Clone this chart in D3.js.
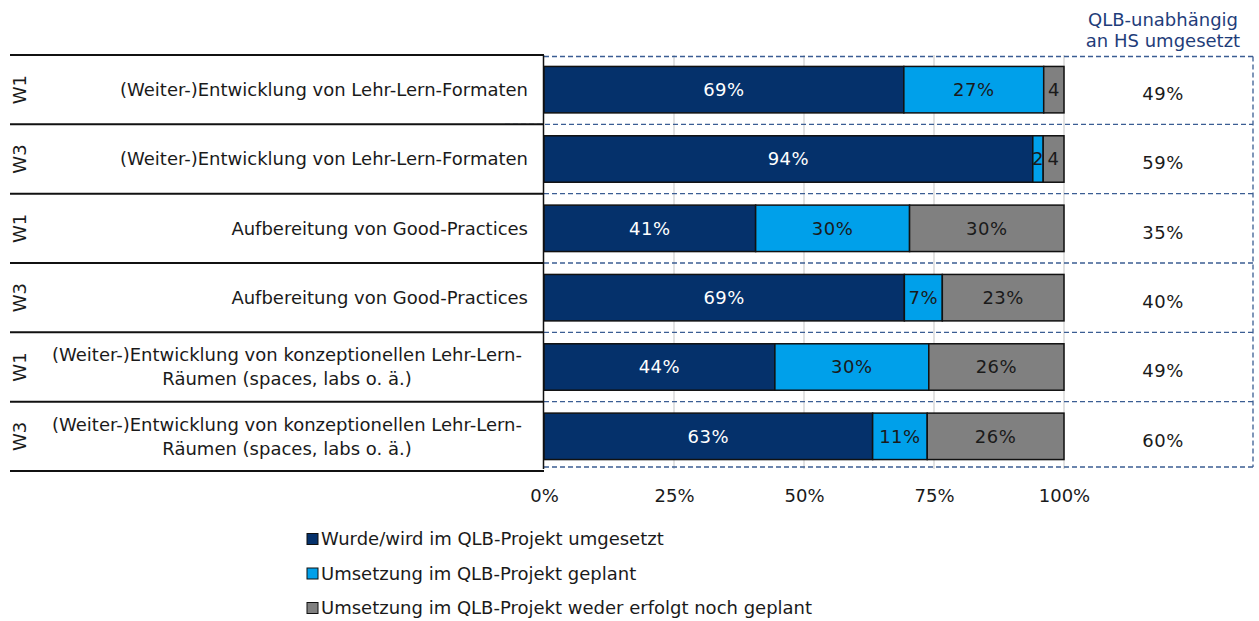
<!DOCTYPE html>
<html>
<head>
<meta charset="utf-8">
<script src="https://cdn.jsdelivr.net/npm/d3@7"></script>
<style>
  body { margin: 0; background: #fff; }
  svg text { font-family: "DejaVu Sans", Verdana, sans-serif; font-size: 18px; fill: #1a1a1a; }
</style>
</head>
<body>
<div id="chart"></div>
<script>
// data
const waves = ["W1", "W3", "W1", "W3", "W1", "W3"];
const rowLabels = [
  ["(Weiter-)Entwicklung von Lehr-Lern-Formaten"],
  ["(Weiter-)Entwicklung von Lehr-Lern-Formaten"],
  ["Aufbereitung von Good-Practices"],
  ["Aufbereitung von Good-Practices"],
  ["(Weiter-)Entwicklung von konzeptionellen Lehr-Lern-", "Räumen (spaces, labs o. ä.)"],
  ["(Weiter-)Entwicklung von konzeptionellen Lehr-Lern-", "Räumen (spaces, labs o. ä.)"]
];
const implemented = [69.2, 94.0, 40.7, 69.3, 44.4, 63.2];
const planned     = [26.9,  2.0, 29.6,  7.3, 29.6, 10.5];
const notPlanned  = [ 3.9,  4.0, 29.7, 23.4, 26.0, 26.3];
const independent = [49, 59, 35, 40, 49, 60];
const xTicks = [0, 25, 50, 75, 100];
const seriesNames = [
  "Wurde/wird im QLB-Projekt umgesetzt",
  "Umsetzung im QLB-Projekt geplant",
  "Umsetzung im QLB-Projekt weder erfolgt noch geplant"
];
const headerLines = ["QLB-unabhängig", "an HS umgesetzt"];

const colors = ["#05316b", "#00a0ea", "#808080"];
const labelColors = ["#ffffff", "#1a1a1a", "#1a1a1a"];

const width = 1259, height = 621;
const svg = d3.select("#chart").append("svg")
  .attr("width", width)
  .attr("height", height);

const x = d3.scaleLinear().domain([0, 100]).range([544, 1064]);
const y = d3.scaleBand().domain(d3.range(waves.length)).range([55, 471])
  .paddingInner(0.33).paddingOuter(0.165);
const step = y.step();
const plotTop = 55, plotBottom = 471;

// stacked data
const rows = waves.map((w, i) => {
  const vals = [implemented[i], planned[i], notPlanned[i]];
  let acc = 0;
  return vals.map((v, k) => {
    const seg = {row: i, k: k, v: v, x0: acc, x1: acc + v};
    acc += v;
    return seg;
  });
});

// gridlines
svg.append("g").selectAll("line")
  .data(xTicks.slice(1))
  .join("line")
    .attr("x1", d => x(d)).attr("x2", d => x(d))
    .attr("y1", plotTop).attr("y2", plotBottom - 2)
    .attr("stroke", "#d9d9d9").attr("stroke-width", 1.5);

// dashed frame for right column
const dashColor = "#3b5d93";
const dashYs = d3.range(waves.length + 1).map(i => plotTop + i * step);
dashYs[0] += 1.5;
dashYs[dashYs.length - 1] -= 4;
svg.append("g").selectAll("line")
  .data(dashYs)
  .join("line")
    .attr("x1", (d, i) => i === 1 ? 505 : 544).attr("x2", 1253)
    .attr("y1", d => d).attr("y2", d => d)
    .attr("stroke", dashColor).attr("stroke-width", 1.3)
    .attr("stroke-dasharray", "5,3");
svg.append("line")
  .attr("x1", 1253).attr("x2", 1253)
  .attr("y1", dashYs[0]).attr("y2", dashYs[dashYs.length - 1])
  .attr("stroke", dashColor).attr("stroke-width", 1.3)
  .attr("stroke-dasharray", "5,3");

// table lines on the left
svg.append("g").selectAll("line")
  .data(d3.range(waves.length + 1))
  .join("line")
    .attr("x1", 10).attr("x2", 544)
    .attr("y1", i => plotTop + i * step).attr("y2", i => plotTop + i * step)
    .attr("stroke", "#111").attr("stroke-width", 2);
svg.append("line")
  .attr("x1", 543.5).attr("x2", 543.5)
  .attr("y1", plotTop).attr("y2", plotBottom - 2)
  .attr("stroke", "#111").attr("stroke-width", 1.5);

// bars
const segs = svg.append("g").selectAll("g")
  .data(rows.flat())
  .join("g");
segs.append("rect")
  .attr("x", d => x(d.x0))
  .attr("y", d => y(d.row))
  .attr("width", d => x(d.x1) - x(d.x0))
  .attr("height", y.bandwidth())
  .attr("fill", d => colors[d.k])
  .attr("stroke", "#111")
  .attr("stroke-width", 1.5);
segs.append("text")
  .attr("x", d => (x(d.x0) + x(d.x1)) / 2)
  .attr("y", d => y(d.row) + y.bandwidth() / 2)
  .attr("dy", "0.35em")
  .attr("text-anchor", "middle")
  .style("fill", d => labelColors[d.k])
  .style("letter-spacing", "0.5px")
  .text(d => Math.round(d.v) + (d.v < 5 ? "" : "%"));

// wave labels
svg.append("g").selectAll("text")
  .data(waves)
  .join("text")
    .attr("transform", (d, i) => `translate(20,${y(i) + y.bandwidth() / 2}) rotate(-90)`)
    .attr("dy", "0.35em")
    .attr("text-anchor", "middle")
    .text(d => d);

// row labels
const lbl = svg.append("g").selectAll("text")
  .data(rowLabels)
  .join("text")
    .attr("text-anchor", d => d.length > 1 ? "middle" : "end")
    .attr("transform", (d, i) => {
      const cy = y(i) + y.bandwidth() / 2;
      return `translate(${d.length > 1 ? 287 : 528},${cy})`;
    });
lbl.selectAll("tspan")
  .data(d => d.map((t, j) => ({t: t, j: j, n: d.length})))
  .join("tspan")
    .attr("x", 0)
    .attr("y", d => (d.j - (d.n - 1) / 2) * 24)
    .attr("dy", "0.35em")
    .text(d => d.t);

// right column
svg.append("g").selectAll("text")
  .data(independent)
  .join("text")
    .attr("x", 1163)
    .attr("y", (d, i) => y(i) + y.bandwidth() / 2 + 4)
    .attr("dy", "0.35em")
    .attr("text-anchor", "middle")
    .style("letter-spacing", "0.5px")
    .text(d => d + "%");

svg.append("g").selectAll("text")
  .data(headerLines)
  .join("text")
    .attr("x", 1163)
    .attr("y", (d, i) => 26 + i * 21)
    .attr("text-anchor", "middle")
    .style("fill", "#1f3d7a")
    .text(d => d);

// x axis
const axis = svg.append("g")
  .attr("transform", `translate(0,${plotBottom})`)
  .call(d3.axisBottom(x).tickValues(xTicks).tickSize(0).tickPadding(18)
    .tickFormat(d => d + "%"));
axis.select(".domain").remove();
axis.selectAll("text")
  .attr("font-family", null).attr("font-size", null)
  .style("fill", "#1a1a1a");

// legend
const leg = svg.append("g").selectAll("g")
  .data(seriesNames)
  .join("g")
    .attr("transform", (d, i) => `translate(307,${539 + i * 34.5})`);
leg.append("rect")
  .attr("x", 0).attr("y", -5.5)
  .attr("width", 11).attr("height", 11)
  .attr("fill", (d, i) => colors[i])
  .attr("stroke", "#111").attr("stroke-width", 1);
leg.append("text")
  .attr("x", 14)
  .attr("dy", "0.35em")
  .text(d => d);
</script>
</body>
</html>
